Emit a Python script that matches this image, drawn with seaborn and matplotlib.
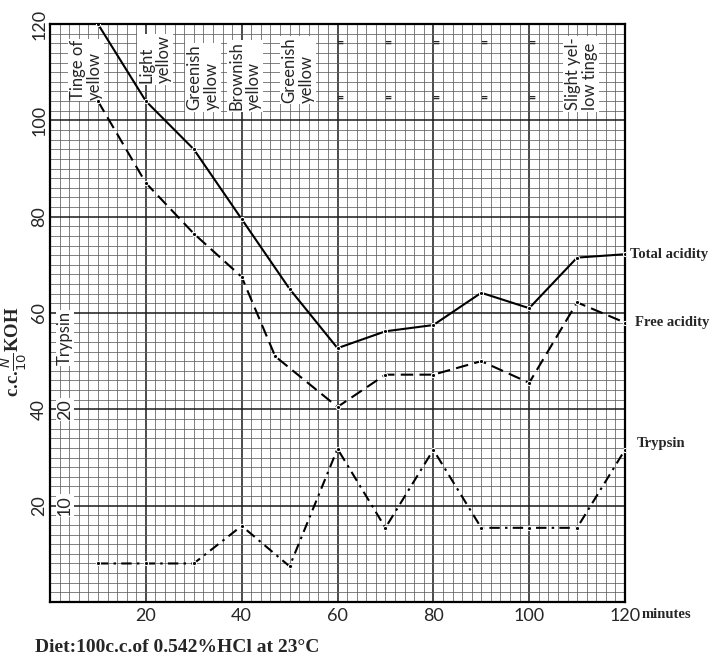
import matplotlib
matplotlib.use("Agg")
import matplotlib.pyplot as plt   # drawing
import seaborn as sns             # line plots
import pandas as pd               # data handling
from matplotlib.ticker import MultipleLocator

# readings every 10 minutes
minutes = [10, 20, 30, 40, 50, 60, 70, 80, 90, 100, 110, 120]
total_acidity = [120, 104, 94, 79.5, 65, 52.7, 56.2, 57.5, 64.2, 61, 71.5, 72.2]
free_minutes = [10, 20, 30, 40, 47, 60, 70, 80, 90, 100, 110, 120]
free_acidity = [104, 87, 76.5, 67.5, 51, 40.5, 47.2, 47.2, 50, 45.5, 62.2, 58]
trypsin = [4, 4, 4, 7.9, 3.7, 15.9, 7.7, 15.8, 7.7, 7.7, 7.7, 15.8]

# colour notes written along the top
note_minutes = [7.6, 21.9, 31.9, 40.7, 51.8, 110.9]
note_texts = ["Tinge of\nyellow", "Light\nyellow", "Greenish\nyellow",
              "Brownish\nyellow", "Greenish\nyellow", "Slight yel-\nlow tinge"]
ditto_minutes = [60, 70, 80, 90, 100]

x_ticks = [20, 40, 60, 80, 100, 120]
y_ticks = [20, 40, 60, 80, 100, 120]
trypsin_ticks = [10, 20]

sns.set_style("white")
plt.rcParams['font.family'] = ['Lato', 'DejaVu Sans']
serif_bold = dict(family=['Liberation Serif', 'DejaVu Serif'], weight='bold')

total_df = pd.DataFrame({'minutes': minutes, 'value': total_acidity})
free_df = pd.DataFrame({'minutes': free_minutes, 'value': free_acidity})
tryp_df = pd.DataFrame({'minutes': minutes, 'value': trypsin})

fig = plt.figure(figsize=(7.22, 6.62), dpi=100)
ax = fig.add_axes([50 / 722, 60 / 662, 575 / 722, 578 / 662])

sns.lineplot(data=total_df, x='minutes', y='value', ax=ax, color='black',
             lw=1.5, marker='o', markersize=3, zorder=5)
sns.lineplot(data=free_df, x='minutes', y='value', ax=ax, color='black',
             lw=1.5, marker='o', markersize=3, zorder=5)
ax.lines[-1].set_dashes([6, 3])

ax.set_xlim(0, 120)
ax.set_ylim(0, 120)
ax.set_xticks(x_ticks)
ax.set_yticks(y_ticks)
ax.xaxis.set_minor_locator(MultipleLocator(2))
ax.yaxis.set_minor_locator(MultipleLocator(2))
ax.set_axisbelow(True)
ax.grid(which='minor', color='#5e5e5e', lw=0.55)
ax.grid(which='major', color='#1a1a1a', lw=1.1)
ax.tick_params(which='both', length=0)
ax.tick_params(axis='x', pad=4, labelsize=13)
ax.tick_params(axis='y', pad=2, labelsize=13)
ax.set_yticklabels([str(t) for t in y_ticks], rotation=90, va='center')
ax.set_xlabel('')
ax.set_ylabel('')
for s in ax.spines.values():
    s.set_linewidth(1.6)
    s.set_color('black')

# trypsin on its own scale (half of the acidity scale)
ax2 = ax.twinx()
sns.lineplot(data=tryp_df, x='minutes', y='value', ax=ax2, color='black',
             lw=1.5, marker='o', markersize=3, zorder=5)
ax2.lines[-1].set_dashes([5, 2.5, 1.2, 2.5])
ax2.set_ylim(0, 60)
ax2.set_yticks([])
ax2.set_ylabel('')
for s in ax2.spines.values():
    s.set_visible(False)

box = dict(facecolor='white', edgecolor='none', pad=1)
for t in trypsin_ticks:
    ax2.text(0.026, t, str(t), transform=ax2.get_yaxis_transform(), rotation=90,
             ha='center', va='center', fontsize=13, bbox=box, zorder=3)
ax2.text(0.026, 27.4, 'Trypsin', transform=ax2.get_yaxis_transform(), rotation=90,
         ha='center', va='center', fontsize=12, bbox=box, zorder=3)

# colour notes
note_bottoms = [104.2, 107.7, 102.1, 102.1, 103.6, 102.1]
for x, txt, yb in zip(note_minutes, note_texts, note_bottoms):
    ax.text(x, yb, txt, rotation=90, ha='center', va='bottom', multialignment='left',
            fontsize=12, linespacing=1.1, bbox=box, zorder=3)
for x in ditto_minutes:
    for yy in (116, 104.6):
        ax.text(x + 0.5, yy, '=', ha='center', va='center', fontsize=9,
                weight='bold', zorder=3)

# series names on the right
ax.text(121, 72.2, 'Total acidity', fontsize=10.5, va='center', ha='left',
        clip_on=False, **serif_bold)
ax.text(122, 58, 'Free acidity', fontsize=10.5, va='center', ha='left',
        clip_on=False, **serif_bold)
ax.text(122.5, 33, 'Trypsin', fontsize=10.5, va='center', ha='left',
        clip_on=False, **serif_bold)

fig.text(14 / 722, 1 - 352 / 662, r'c.c.$\frac{N}{10}$KOH', rotation=90,
         ha='center', va='center', fontsize=13.5, **serif_bold)
fig.text(642 / 722, 1 - 615 / 662, 'minutes', ha='left', va='center',
         fontsize=10.5, **serif_bold)
fig.text(35 / 722, 1 - 647 / 662, 'Diet:100c.c.of 0.542%HCl at 23°C', ha='left',
         va='center', fontsize=14, **serif_bold)

plt.savefig('out.png', dpi=100)
